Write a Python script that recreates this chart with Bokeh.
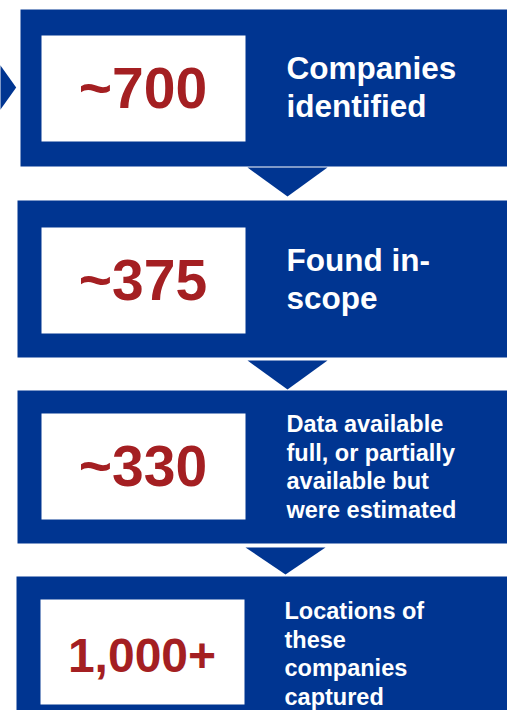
from bokeh.plotting import figure
from bokeh.models import Range1d, ColumnDataSource
from bokeh.core.properties import value
from bokeh.embed import file_html
from bokeh.resources import INLINE

# ---- data ----
stage_values = ["~700", "~375", "~330", "1,000+"]
stage_descriptions = [
    "Companies\nidentified",
    "Found in-\nscope",
    "Data available\nfull, or partially\navailable but\nwere estimated",
    "Locations of\nthese\ncompanies\ncaptured",
]

# ---- layout (reference pixel coordinates) ----
BLUE = "#003591"
RED = "#A41F22"
FONT = value("Liberation Sans")

W, H = 507, 710   # fits a 523x726 window with an 8px page margin

box_top = [9, 200, 390, 576]
box_bottom = [166, 357, 543, 740]
box_left = [20, 17, 17, 16]
box_right = [530, 530, 530, 530]
inner_left = [41, 41, 41, 40]
inner_right = [245, 245, 245, 244]
inner_top = [35, 227, 413, 599]
inner_bottom = [141, 333, 519, 704]
num_x = [142.5, 142.5, 142.5, 141.5]
num_base = [110, 302, 488, 674]
num_size = [57, 57, 57, 48]
desc_x = [286, 286, 286, 284]
desc_base = [80, 272, 433, 620]
desc_size = [31.5, 31.5, 23.5, 23.5]
desc_step = [38, 38, 28.5, 28.5]
tri_cx = [287, 287, 285]
tri_top = [167, 360, 547]
tri_apex = [196, 389, 574]
tri_half = 40
BASE_SHIFT = 0.4  # correction of Bokeh's alphabetic baseline, in em

p = figure(width=W, height=H, output_backend="svg", toolbar_location=None,
           x_range=Range1d(0, W), y_range=Range1d(H, 0),
           x_axis_location=None, y_axis_location=None, min_border=0,
           outline_line_color=None, background_fill_color="white",
           border_fill_color="white")
p.grid.visible = False

# outer boxes
p.quad(left=box_left, right=box_right, top=box_top, bottom=box_bottom,
       fill_color=BLUE, line_color=None)
# inner white boxes
p.quad(left=inner_left, right=inner_right, top=inner_top, bottom=inner_bottom,
       fill_color="white", line_color=None)

# down arrows between stages, plus entry arrow on the left
xs, ys = [], []
for cx, t, a in zip(tri_cx, tri_top, tri_apex):
    xs.append([cx - tri_half, cx + tri_half, cx])
    ys.append([t, t, a])
xs.append([-20, 0, 15.7, 0, -20])
ys.append([65, 65, 87, 109, 109])
p.patches(xs=xs, ys=ys, fill_color=BLUE, line_color=None)

# numbers
for i, v in enumerate(stage_values):
    fs = num_size[i]
    p.text(x=[num_x[i]], y=[num_base[i]], text=[v], text_color=RED,
           text_font=FONT, text_font_style="bold", text_font_size=f"{fs:.1f}px",
           text_align="center", text_baseline="alphabetic",
           y_offset=-BASE_SHIFT * fs)

# descriptions
for i, d in enumerate(stage_descriptions):
    lines = d.split("\n")
    fs = desc_size[i]
    src = ColumnDataSource(dict(
        x=[desc_x[i]] * len(lines),
        y=[desc_base[i] + k * desc_step[i] for k in range(len(lines))],
        t=lines))
    p.text(x="x", y="y", text="t", source=src, text_color="white",
           text_font=FONT, text_font_style="bold",
           text_font_size=f"{fs:.1f}px",
           text_align="left", text_baseline="alphabetic",
           y_offset=-BASE_SHIFT * fs)

open("out.html", "w").write(file_html(p, INLINE))
